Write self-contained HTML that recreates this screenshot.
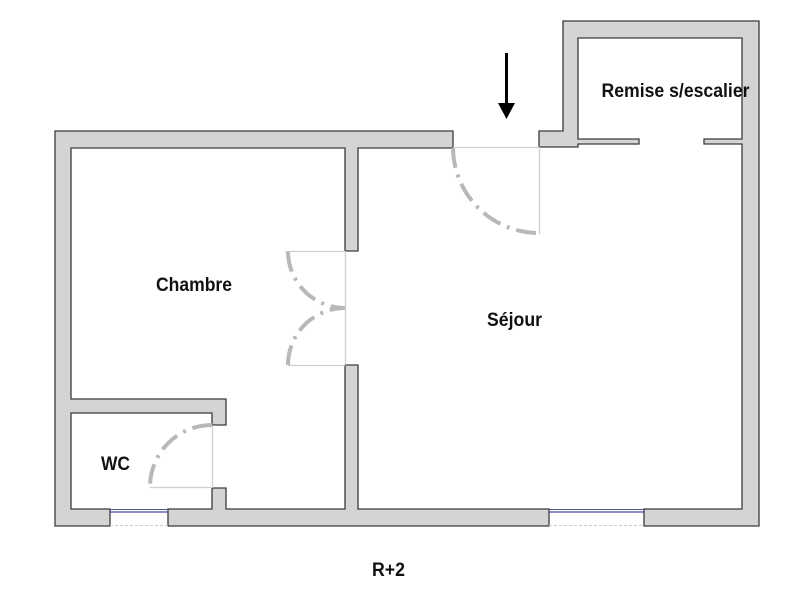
<!DOCTYPE html>
<html>
<head>
<meta charset="utf-8">
<style>
html,body{margin:0;padding:0;background:#fff;}
svg{display:block;}
text{font-family:"Liberation Sans",Arial,sans-serif;font-weight:bold;fill:#111;}
</style>
</head>
<body>
<svg width="800" height="600" viewBox="0 0 800 600" xmlns="http://www.w3.org/2000/svg">
  <rect x="0" y="0" width="800" height="600" fill="#fff"/>

  <!-- Walls -->
  <g fill="#d4d4d4" stroke="#3a3a3a" stroke-width="1.3" stroke-linejoin="miter">
    <!-- Piece A -->
    <path d="M55,131 L453,131 L453,148 L358,148 L358,251 L345,251 L345,148 L71,148 L71,399 L226,399 L226,425 L212,425 L212,413 L71,413 L71,509 L110,509 L110,526 L55,526 Z"/>
    <!-- Piece B -->
    <path d="M168,509 L212,509 L212,488 L226,488 L226,509 L345,509 L345,365 L358,365 L358,509 L549,509 L549,526 L168,526 Z"/>
    <!-- Piece C -->
    <path d="M539,131 L563,131 L563,21 L759,21 L759,526 L644,526 L644,509 L742,509 L742,144 L704,144 L704,139 L742,139 L742,38 L578,38 L578,139 L639,139 L639,144 L578,144 L578,147 L539,147 Z"/>
  </g>

  <!-- Windows -->
  <g>
    <line x1="110" y1="509.5" x2="168" y2="509.5" stroke="#55558a" stroke-width="1"/>
    <line x1="110" y1="512" x2="168" y2="512" stroke="#4848a8" stroke-width="1.3"/>
    <line x1="110" y1="525.5" x2="168" y2="525.5" stroke="#cccccc" stroke-width="1" stroke-dasharray="3 2"/>
    <line x1="549" y1="509.5" x2="644" y2="509.5" stroke="#55558a" stroke-width="1"/>
    <line x1="549" y1="512" x2="644" y2="512" stroke="#4848a8" stroke-width="1.3"/>
    <line x1="549" y1="525.5" x2="644" y2="525.5" stroke="#cccccc" stroke-width="1" stroke-dasharray="3 2"/>
  </g>

  <!-- Door thin lines -->
  <g stroke="#cfcfcf" stroke-width="1.3" fill="none">
    <!-- entry -->
    <line x1="453" y1="147.5" x2="539" y2="147.5"/>
    <line x1="539.5" y1="147" x2="539.5" y2="234"/>
    <!-- chambre double door -->
    <line x1="285" y1="251.5" x2="345" y2="251.5"/>
    <line x1="288" y1="365.5" x2="345" y2="365.5"/>
    <line x1="345.5" y1="251" x2="345.5" y2="365"/>
    <!-- WC -->
    <line x1="150" y1="487.5" x2="212" y2="487.5"/>
    <line x1="212.5" y1="425" x2="212.5" y2="488"/>
  </g>

  <!-- Door arcs -->
  <g stroke="#b8b8b8" stroke-width="4" fill="none" stroke-dasharray="20 7 3 7">
    <path d="M453,148 A86,86 0 0 0 539,233"/>
    <path d="M288,252 A57,57 0 0 0 345,308"/>
    <path d="M288,365 A57,57 0 0 1 345,308"/>
    <path d="M212,425 A62,62 0 0 0 150,487"/>
  </g>

  <!-- Arrow -->
  <line x1="506.5" y1="53" x2="506.5" y2="104" stroke="#000" stroke-width="3"/>
  <polygon points="498,103 515,103 506.5,119" fill="#000"/>

  <!-- Labels -->
  <text x="601.5" y="97" font-size="19" textLength="148" lengthAdjust="spacingAndGlyphs">Remise s/escalier</text>
  <text x="156" y="291" font-size="19" textLength="76" lengthAdjust="spacingAndGlyphs">Chambre</text>
  <text x="487" y="326" font-size="19" textLength="55" lengthAdjust="spacingAndGlyphs">Séjour</text>
  <text x="101" y="470" font-size="19" textLength="29" lengthAdjust="spacingAndGlyphs">WC</text>
  <text x="372" y="576" font-size="19" textLength="33" lengthAdjust="spacingAndGlyphs">R+2</text>
</svg>
</body>
</html>
